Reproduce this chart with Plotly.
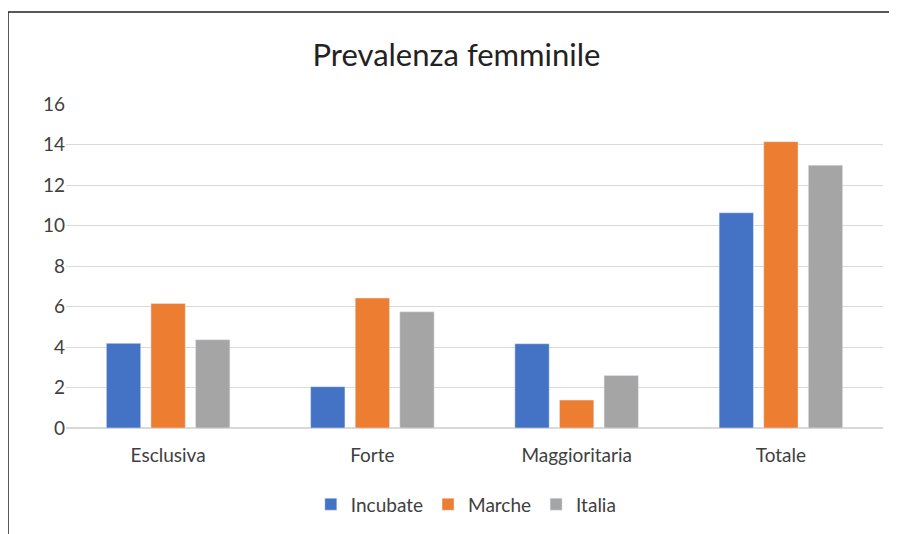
import plotly.graph_objects as go

categories = ["Esclusiva", "Forte", "Maggioritaria", "Totale"]
incubate = [4.18, 2.04, 4.16, 10.63]
marche = [6.15, 6.42, 1.38, 14.14]
italia = [4.36, 5.74, 2.59, 12.98]

W, H = 897, 534
# page body has an 8px margin, so the figure is shifted by 8px right/down
ml, mr, mt, mb = 58, 22, 96, 114

fig = go.Figure()
fig.add_bar(name="Incubate", x=categories, y=incubate, marker_color="#4472C4")
fig.add_bar(name="Marche", x=categories, y=marche, marker_color="#ED7D31")
fig.add_bar(name="Italia", x=categories, y=italia, marker_color="#A5A5A5")

pw = W - ml - mr
ph = H - mt - mb
# thin black frame around the chart (left/top edges visible in the reference)
fig.add_shape(type="rect", xref="paper", yref="paper",
              x0=(0 - ml) / pw, x1=(W + 20 - ml) / pw,
              y0=-(H + 20 - mt - ph) / ph, y1=(H - mb - 4) / ph,
              line=dict(color="#222222", width=1.5), fillcolor="rgba(0,0,0,0)")

fig.update_layout(
    width=W, height=H,
    margin=dict(l=ml, r=mr, t=mt, b=mb),
    paper_bgcolor="white", plot_bgcolor="white",
    font=dict(family="Lato, Open Sans, sans-serif", color="#404040", size=19),
    title=dict(text="Prevalenza femminile", x=0.5, xanchor="center", y=0.912, yanchor="middle",
               font=dict(size=31, color="#222222")),
    barmode="group", bargap=0.345, bargroupgap=0.23,
    legend=dict(orientation="h", x=0.49, xanchor="center", y=-0.177, yanchor="top",
                font=dict(size=19, color="#404040"), itemwidth=30, tracegroupgap=0),
    showlegend=True,
)
fig.update_yaxes(range=[0, 16], dtick=2, showgrid=True, gridcolor="#D9D9D9", gridwidth=1,
                 zeroline=True, zerolinecolor="#D9D9D9", ticks="", ticklen=0,
                 tickfont=dict(size=19, color="#404040"))
fig.update_xaxes(showline=False, ticks="", ticklabelstandoff=14,
                 tickfont=dict(size=19, color="#404040"))

fig.write_html("out.html")
